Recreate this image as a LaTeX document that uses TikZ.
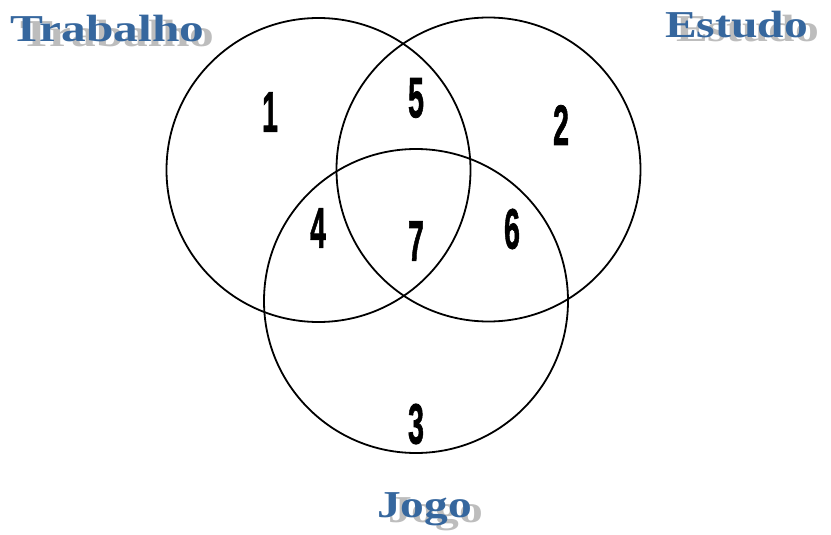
\documentclass[tikz,border=0pt]{standalone}
\usepackage{fontspec,graphicx}
\newfontfamily\setfont{Liberation Serif}
\newfontfamily\numfont[FakeBold=1.5]{Liberation Sans}
\definecolor{setblue}{HTML}{36679E}
\definecolor{shade}{HTML}{BDBDBD}
\tikzset{setc/.style={circle,draw,line width=1.8pt,minimum size=304pt,inner sep=0pt},
 num/.style={font=\numfont\bfseries\fontsize{57}{57}\selectfont,inner sep=0pt},
 lbl/.style={font=\setfont\bfseries\fontsize{38}{38}\selectfont,text=setblue,inner sep=0pt,anchor=base west},
 lblshade/.style={lbl,text=shade}}
\newcommand{\narrow}[1]{\scalebox{0.5}[1]{#1}}
\newcommand{\wide}[1]{\scalebox{1.25}[1]{#1}}
\begin{document}
\begin{tikzpicture}[x=1pt,y=-1pt]
\useasboundingbox (0,0) rectangle (831,535);
% the three sets
\node[setc] (trabalho) at (318.5,170) {};
\node[setc] (estudo) at (488.5,169.5) {};
\node[setc] (jogo) at (416,301) {};
% set names, with shadow
\node[lblshade] (trabS) at (20,47) {\scalebox{1.3}[1]{Trabalho}};
\node[lbl] (trabL) at (10,42) {\scalebox{1.3}[1]{Trabalho}};
\node[lblshade] (estS) at (676,42) {\wide{Estudo}};
\node[lbl] (estL) at (665,38) {\wide{Estudo}};
\node[lblshade] (jogS) at (388,522) {\wide{Jogo}};
\node[lbl] (jogL) at (377,517) {\wide{Jogo}};
% regions
\node[num] (r1) at (270,112) {\narrow{1}};
\node[num] (r2) at (561,125) {\narrow{2}};
\node[num] (r3) at (416,424) {\narrow{3}};
\node[num] (r4) at (318,228) {\narrow{4}};
\node[num] (r5) at (416,98) {\narrow{5}};
\node[num] (r6) at (512,229) {\narrow{6}};
\node[num] (r7) at (416,241) {\narrow{7}};
\end{tikzpicture}
\end{document}
